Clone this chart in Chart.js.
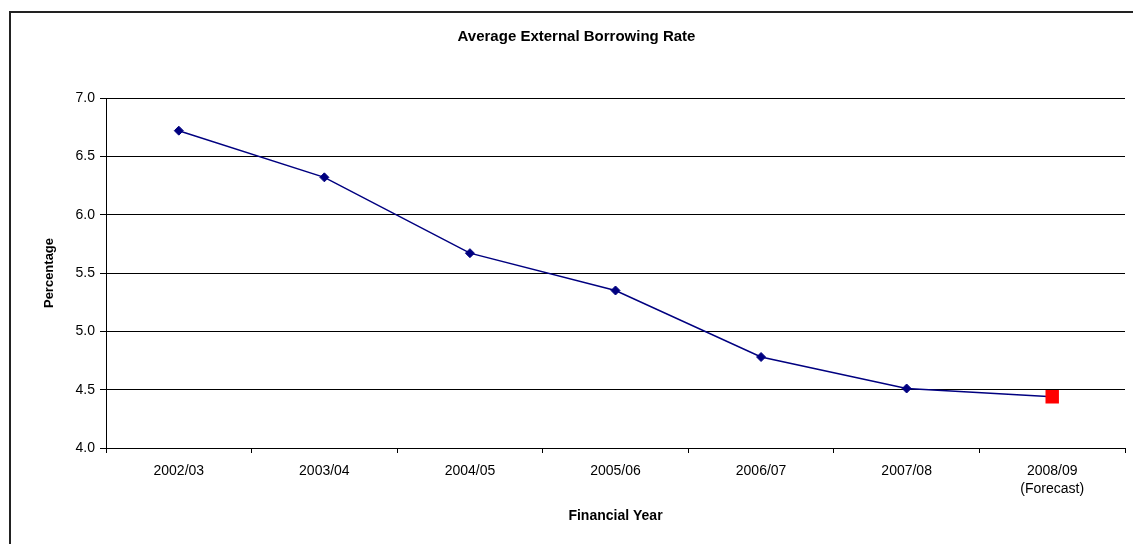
<!DOCTYPE html>
<html>
<head>
<meta charset="utf-8">
<script src="https://cdn.jsdelivr.net/npm/chart.js@4"></script>
<style>
  html, body { margin: 0; padding: 0; background: #fff; overflow: hidden; }
  #frame { position: absolute; left: 9px; top: 11px; width: 1200px; height: 600px; border-left: 2px solid #222; border-top: 2px solid #222; }
  #wrap { position: absolute; left: 0; top: 0; width: 1133px; height: 544px; }
</style>
</head>
<body>
<div id="frame"></div>
<div id="wrap"><canvas id="rateChart" width="1133" height="544"></canvas></div>
<script>
// Financial years and average external borrowing rate (%)
const years = ['2002/03', '2003/04', '2004/05', '2005/06', '2006/07', '2007/08', ['2008/09', '(Forecast)']];
const rates = [6.72, 6.32, 5.67, 5.35, 4.78, 4.51, 4.44];
const forecastIndex = 6;
const yTicks = [4.0, 4.5, 5.0, 5.5, 6.0, 6.5, 7.0];

const font = 'Liberation Sans, Arial, sans-serif';
const navy = '#000080';

const rateChart = new Chart(document.getElementById('rateChart'), {
    type: 'line',
    data: {
        labels: years,
        datasets: [{
            label: 'Average External Borrowing Rate',
            data: rates,
            borderColor: navy,
            borderWidth: 1.5,
            tension: 0,
            fill: false,
            pointStyle: ctx => ctx.dataIndex === forecastIndex ? 'rect' : 'rectRot',
            pointRadius: ctx => ctx.dataIndex === forecastIndex ? 9.5 : 4.5,
            pointBackgroundColor: ctx => ctx.dataIndex === forecastIndex ? '#ff0000' : navy,
            pointBorderColor: ctx => ctx.dataIndex === forecastIndex ? '#ff0000' : navy,
            pointBorderWidth: ctx => ctx.dataIndex === forecastIndex ? 0 : 1
        }]
    },
    options: {
        responsive: false,
        animation: false,
        devicePixelRatio: 1,
        layout: { autoPadding: false, padding: { left: 28, right: 8, top: 0, bottom: 0 } },
        plugins: {
            legend: { display: false },
            tooltip: { enabled: false },
            title: {
                display: true,
                text: 'Average External Borrowing Rate',
                color: '#000',
                font: { family: font, size: 15, weight: 'bold', lineHeight: 1.2 },
                padding: { top: 28, bottom: 52 }
            }
        },
        scales: {
            x: {
                offset: true,
                afterFit: s => { s.height = 96; },
                grid: { offset: true, drawOnChartArea: false, tickLength: 5, color: '#000', lineWidth: 1 },
                border: { display: true, color: '#000', width: 1 },
                ticks: { color: '#000', padding: 9, maxRotation: 0, autoSkip: false, font: { family: font, size: 14, lineHeight: 1.3 } },
                title: {
                    display: true,
                    text: 'Financial Year',
                    color: '#000',
                    font: { family: font, size: 14, weight: 'bold', lineHeight: 1.2 },
                    padding: { top: 0, bottom: 19 }
                }
            },
            y: {
                min: 4,
                max: 7,
                afterFit: s => { s.width = 78; },
                afterBuildTicks: s => { s.ticks = yTicks.map(v => ({ value: v })); },
                grid: { color: '#000', lineWidth: 1, tickLength: 6 },
                border: { display: true, color: '#000', width: 1 },
                ticks: {
                    color: '#000',
                    padding: 5,
                    font: { family: font, size: 14 },
                    callback: v => Number(v).toFixed(1)
                },
                title: {
                    display: true,
                    text: 'Percentage',
                    color: '#000',
                    font: { family: font, size: 13, weight: 'bold', lineHeight: 1.2 },
                    padding: { top: 14, bottom: 0 }
                }
            }
        }
    }
});
</script>
</body>
</html>
